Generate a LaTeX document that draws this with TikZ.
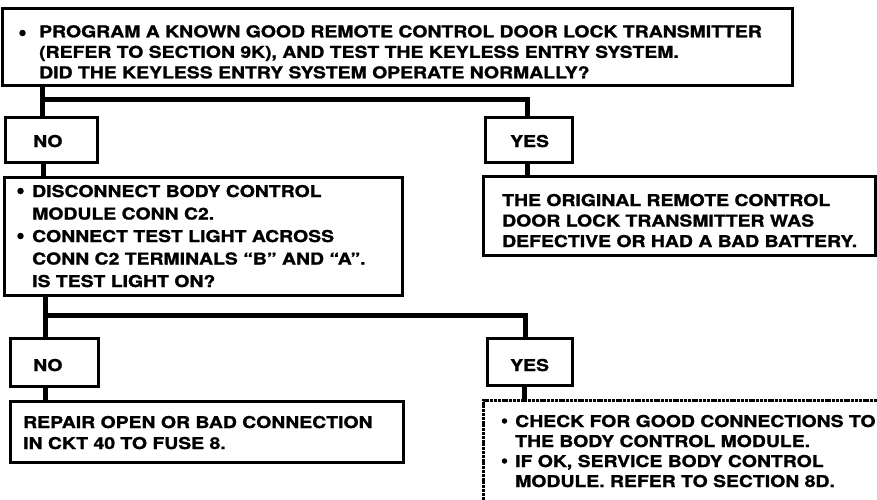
\documentclass[tikz,border=0pt]{standalone}
\usepackage{fontspec}
\setmainfont{TeX Gyre Heros}[FakeStretch=1.19,FakeBold=1.3]
\usetikzlibrary{calc}
\newcommand{\txtblk}[2]{{\fontsize{16.3}{#1}\selectfont\bfseries\begin{tabular}[t]{@{}l@{}}#2\end{tabular}}}
\tikzset{
  box/.style={draw=black, line width=3pt, rectangle, inner sep=0pt, anchor=north west},
  dbox/.style={box, line width=3.5pt, dash pattern=on 3pt off 0.8pt},
  conn/.style={draw=black, line width=5pt},
  txt/.style={inner sep=0pt, anchor=base west, font=\bfseries\fontsize{16.3}{20.5}\selectfont},
  bul/.style={circle, fill=black, inner sep=0pt, minimum size=6.5pt}
}
\begin{document}
\begin{tikzpicture}[x=1pt,y=-1pt]
\useasboundingbox (0,0) rectangle (877,499);
\clip (0,0) rectangle (877,499);
% boxes
\node[box, minimum width=790pt, minimum height=77pt] (top) at (0.5,6.5) {};
\node[box, minimum width=92pt, minimum height=45pt] (no1) at (3.5,115.5) {};
\node[box, minimum width=87pt, minimum height=45pt] (yes1) at (483.5,115.5) {};
\node[box, minimum width=398pt, minimum height=118pt] (q2) at (2.5,175.5) {};
\node[box, minimum width=392pt, minimum height=79pt] (res1) at (481.5,174.5) {};
\node[box, minimum width=88pt, minimum height=48pt] (no2) at (8.5,336.5) {};
\node[box, minimum width=85pt, minimum height=47pt] (yes2) at (485.5,336.5) {};
\node[box, minimum width=393pt, minimum height=61pt] (repair) at (8.5,399.5) {};
\node[dbox, minimum width=420pt, minimum height=120pt] (chk) at (481.5,398.5) {};
% junction coordinates
\coordinate (j1) at (42,99);
\coordinate (j1r) at (527,99);
\coordinate (j2) at (45,315);
\coordinate (j2r) at (525,315);
\coordinate (c1) at (43,170);
\coordinate (c2) at (527,170);
\coordinate (c3) at (45,393);
\coordinate (c4) at (524,393);
% connectors
\draw[conn] (top.south -| j1) -- (no1.north -| j1);
\draw[conn] ([xshift=-2.5pt]j1) -- ([xshift=2.5pt]j1r);
\draw[conn] (j1r) -- (yes1.north -| j1r);
\draw[conn] (no1.south -| c1) -- (q2.north -| c1);
\draw[conn] (yes1.south -| c2) -- (res1.north -| c2);
\draw[conn] (q2.south -| j2) -- (no2.north -| j2);
\draw[conn] ([xshift=-2.5pt]j2) -- ([xshift=2.5pt]j2r);
\draw[conn] (j2r) -- (yes2.north -| j2r);
\draw[conn] (no2.south -| c3) -- (repair.north -| c3);
\draw[conn] (yes2.south -| c4) -- (chk.north -| c4);
% bullets
\node[bul] (tb) at (22.5,33) {};
\node[bul] (qb1) at (20.5,191) {};
\node[bul] (qb2) at (20.5,236) {};
\node[bul, minimum size=5.5pt] (cb1) at (504.5,421) {};
\node[bul, minimum size=5.5pt] (cb2) at (504.5,461) {};
% texts
\node[txt] (tt) at (39,37.3) {\txtblk{20.5}{PROGRAM A KNOWN GOOD REMOTE CONTROL DOOR LOCK TRANSMITTER\\(REFER TO SECTION 9K), AND TEST THE KEYLESS ENTRY SYSTEM.\\DID THE KEYLESS ENTRY SYSTEM OPERATE NORMALLY?}};
\node[txt] (no1t) at (33,147) {NO};
\node[txt] (yes1t) at (510,147) {YES};
\node[txt] (q2t) at (32,197) {\txtblk{22.5}{DISCONNECT BODY CONTROL\\MODULE CONN C2.\\CONNECT TEST LIGHT ACROSS\\CONN C2 TERMINALS “B” AND “A”.\\IS TEST LIGHT ON?}};
\node[txt] (res1t) at (502,206) {\txtblk{20.5}{THE ORIGINAL REMOTE CONTROL\\DOOR LOCK TRANSMITTER WAS\\DEFECTIVE OR HAD A BAD BATTERY.}};
\node[txt] (no2t) at (33,371) {NO};
\node[txt] (yes2t) at (510,371) {YES};
\node[txt] (rept) at (23,428) {\txtblk{21}{REPAIR OPEN OR BAD CONNECTION\\IN CKT 40 TO FUSE 8.}};
\node[txt] (chkt) at (515,427) {\txtblk{20}{CHECK FOR GOOD CONNECTIONS TO\\THE BODY CONTROL MODULE.\\IF OK, SERVICE BODY CONTROL\\MODULE. REFER TO SECTION 8D.}};
\end{tikzpicture}
\end{document}
